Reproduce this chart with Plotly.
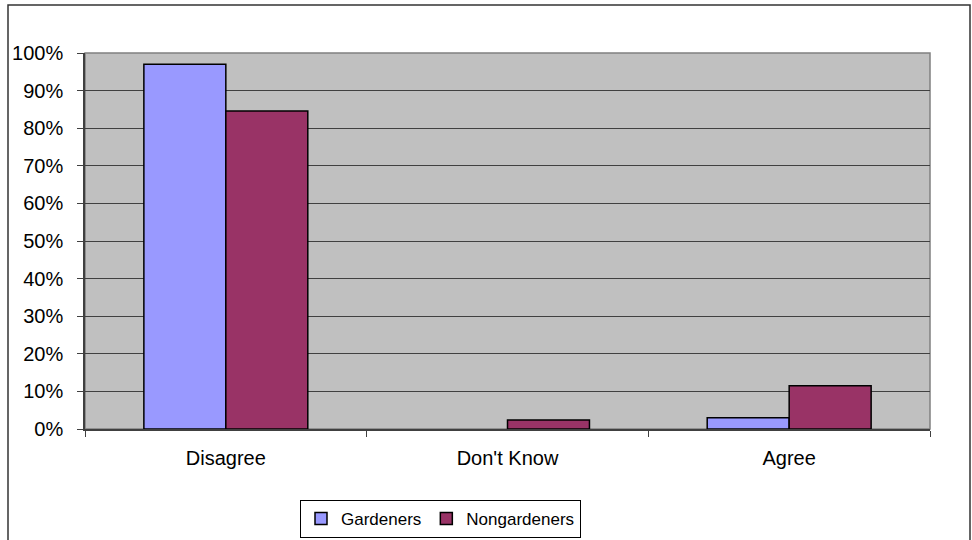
import plotly.graph_objects as go

categories = ["Disagree", "Don't Know", "Agree"]
gardeners = [0.97, 0.0, 0.03]
nongardeners = [0.846, 0.024, 0.115]
series_names = ["Gardeners", "Nongardeners"]
y_ticks = [0, 0.1, 0.2, 0.3, 0.4, 0.5, 0.6, 0.7, 0.8, 0.9, 1.0]

W, H = 972, 540
L, R, T, B = 85, 42, 53, 111
pw, ph = W - L - R, H - T - B

def px_x(x):
    return (x - L) / pw

def px_y(y):
    return (H - B - y) / ph

def nz(vals):
    # zero-height bars are not drawn in the original
    return [v if v > 0 else None for v in vals]

FONT = "Liberation Sans, Arial, sans-serif"

fig = go.Figure()
fig.add_bar(x=categories, y=nz(gardeners), name=series_names[0],
            marker=dict(color="#9999FF", line=dict(color="#000000", width=1.5)))
fig.add_bar(x=categories, y=nz(nongardeners), name=series_names[1],
            marker=dict(color="#993366", line=dict(color="#000000", width=1.5)))

fig.update_layout(
    width=W, height=H,
    margin=dict(l=L, r=R, t=T, b=B, pad=0, autoexpand=False),
    paper_bgcolor="white",
    plot_bgcolor="#C0C0C0",
    barmode="group",
    bargap=0.418,
    bargroupgap=0,
    font=dict(family=FONT, color="#000000", size=20),
    showlegend=True,
    legend=dict(
        orientation="h",
        x=px_x(440.5), xanchor="center",
        y=px_y(519), yanchor="middle",
        bordercolor="#000000", borderwidth=1,
        bgcolor="white",
        font=dict(size=17, family=FONT),
        itemwidth=30,
        tracegroupgap=0,
        traceorder="normal",
    ),
    xaxis=dict(
        type="category",
        tickson="boundaries",
        ticks="outside", ticklen=6, tickcolor="#404040", tickwidth=1,
        showline=True, linecolor="#404040", linewidth=1.5,
        showgrid=False,
        tickfont=dict(size=20, family=FONT),
        ticklabelstandoff=10,
        fixedrange=True,
    ),
    yaxis=dict(
        range=[0, 1],
        tickvals=y_ticks,
        tickformat=".0%",
        ticks="outside", ticklen=6, tickcolor="#404040", tickwidth=1,
        showline=True, linecolor="#404040", linewidth=1.5,
        showgrid=True, gridcolor="#404040", gridwidth=1,
        zeroline=False,
        tickfont=dict(size=20, family=FONT),
        ticklabelstandoff=10,
        fixedrange=True,
    ),
    shapes=[
        dict(type="rect", xref="paper", yref="paper",
             x0=0, x1=1, y0=0, y1=1,
             line=dict(color="#808080", width=1.5), layer="below"),
        dict(type="rect", xref="paper", yref="paper",
             x0=px_x(8), x1=px_x(970), y0=px_y(560), y1=px_y(5),
             line=dict(color="#333333", width=1.5)),
    ],
)

fig.write_html("out.html", config={"displayModeBar": False})
